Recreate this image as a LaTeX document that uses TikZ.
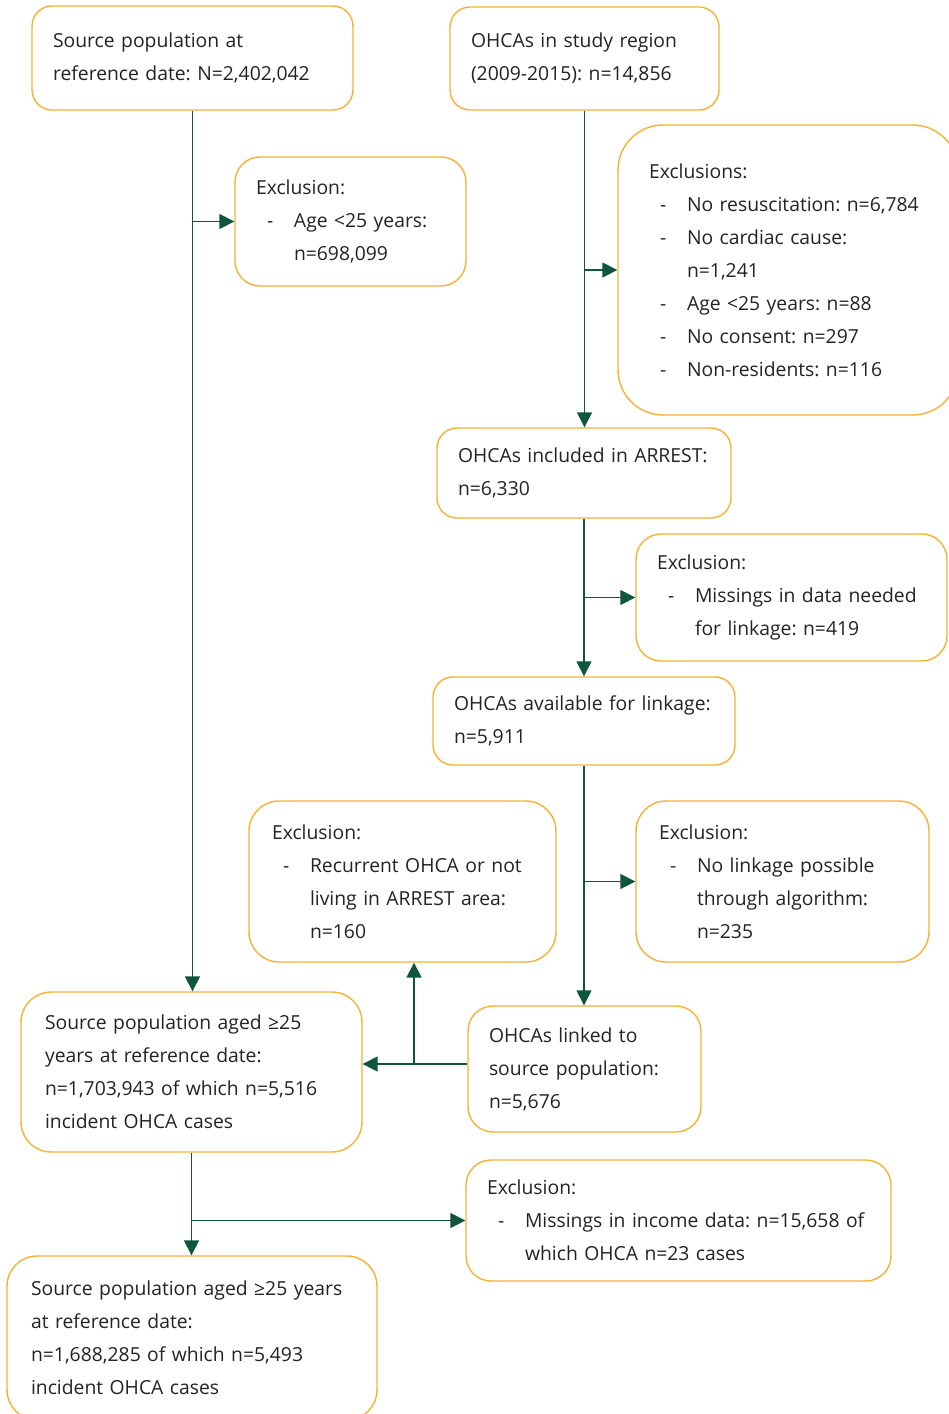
\documentclass[tikz,border=0pt]{standalone}
\usepackage{fontspec}
\setmainfont{Open Sans}
\usetikzlibrary{arrows.meta,positioning}
\definecolor{boxorange}{RGB}{247,178,52}
\definecolor{arrowgreen}{RGB}{14,87,58}
\definecolor{textgray}{RGB}{35,35,35}
\frenchspacing
\newcommand{\itm}{\makebox[0.76cm][l]{\hspace{0.22cm}-}}
\newcommand{\cnt}{\hspace*{0.76cm}}
\tikzset{
  flowbox/.style={draw=boxorange, line width=0.8pt, fill=white, rounded corners=0.4cm,
    align=left, inner xsep=0.42cm, inner ysep=0pt, text=textgray,
    font=\fontsize{11}{18.8}\selectfont},
  flowline/.style={draw=arrowgreen, line width=0.85pt}
}
\begin{document}
\begin{tikzpicture}[x=0.02cm, y=-0.02cm, >={Triangle[length=0.3cm,width=0.3cm]}]
  \useasboundingbox (0,0) rectangle (948,1414);
  % left column
  \node[flowbox, text width=5.58cm, minimum height=2.08cm] (src) at (192.5,58)
    {Source population at\\reference date: N=2,402,042};
  \node[flowbox, rounded corners=0.5cm, text width=3.78cm, minimum height=2.58cm] (exc1) at (350.5,221.5)
    {Exclusion:\\\itm Age <25 years:\\\cnt n=698,099};
  % right column
  \node[flowbox, text width=4.54cm, minimum height=2.06cm] (ohca) at (584.5,58.5)
    {OHCAs in study region\\(2009-2015): n=14,856};
  \node[flowbox, rounded corners=0.9cm, inner xsep=0.62cm, text width=5.56cm, minimum height=5.8cm] (excs) at (788,270)
    {Exclusions:\\\itm No resuscitation: n=6,784\\\itm No cardiac cause:\\\cnt n=1,241\\%
     \itm Age <25 years: n=88\\\itm No consent: n=297\\\itm Non-residents: n=116};
  \node[flowbox, text width=5.04cm, minimum height=1.8cm] (incl) at (584,473)
    {OHCAs included in ARREST:\\n=6,330};
  \node[flowbox, rounded corners=0.5cm, text width=5.38cm, minimum height=2.54cm] (exc2) at (791.5,597.5)
    {Exclusion:\\\itm Missings in data needed\\\cnt for linkage: n=419};
  \node[flowbox, text width=5.2cm, minimum height=1.76cm] (avail) at (584,721)
    {OHCAs available for linkage:\\n=5,911};
  \node[flowbox, rounded corners=0.6cm, inner xsep=0.46cm, text width=5.22cm, minimum height=3.22cm] (exc3) at (402.5,881.5)
    {Exclusion:\\\itm Recurrent OHCA or not\\\cnt living in ARREST area:\\\cnt n=160};
  \node[flowbox, rounded corners=0.6cm, inner xsep=0.46cm, text width=4.94cm, minimum height=3.22cm] (exc4) at (782.5,881.5)
    {Exclusion:\\\itm No linkage possible\\\cnt through algorithm:\\\cnt n=235};
  % merged population
  \node[flowbox, rounded corners=0.6cm, inner xsep=0.48cm, text width=5.86cm, minimum height=3.2cm] (src25) at (191.5,1072)
    {Source population aged ≥25\\years at reference date:\\n=1,703,943 of which n=5,516\\incident OHCA cases};
  \node[flowbox, rounded corners=0.5cm, text width=3.82cm, minimum height=2.52cm] (linked) at (584.5,1069)
    {OHCAs linked to\\source population:\\n=5,676};
  \node[flowbox, rounded corners=0.5cm, text width=7.66cm, minimum height=2.42cm] (exc5) at (678.5,1220.5)
    {Exclusion:\\\itm Missings in income data: n=15,658 of\\\cnt which OHCA n=23 cases};
  \node[flowbox, rounded corners=0.6cm, inner xsep=0.48cm, text width=6.44cm, minimum height=3.28cm] (final) at (192,1338)
    {Source population aged ≥25 years\\at reference date:\\n=1,688,285 of which n=5,493\\incident OHCA cases};
  % connectors
  \draw[flowline, ->] (src.south) -- (src.south |- src25.north);
  \draw[flowline, ->] (src.south |- exc1.west) -- (exc1.west);
  \draw[flowline, ->] (ohca.south) -- (ohca.south |- incl.north);
  \draw[flowline, ->] (ohca.south |- excs.west) -- (excs.west);
  \draw[flowline, ->] (incl.south) -- (incl.south |- avail.north);
  \draw[flowline, ->] (incl.south |- exc2.west) -- (exc2.west);
  \draw[flowline, ->] (avail.south) -- (avail.south |- linked.north);
  \draw[flowline, ->] (avail.south |- exc4.west) -- (exc4.west);
  \coordinate (split) at (414,1064);
  \draw[flowline, ->] (split -| linked.west) -- (split -| src25.east);
  \draw[flowline, ->] (split) -- (split |- exc3.south);
  \draw[flowline, ->] (src25.south) -- (src25.south |- final.north);
  \draw[flowline, ->] (src25.south |- exc5.west) -- (exc5.west);
\end{tikzpicture}
\end{document}
